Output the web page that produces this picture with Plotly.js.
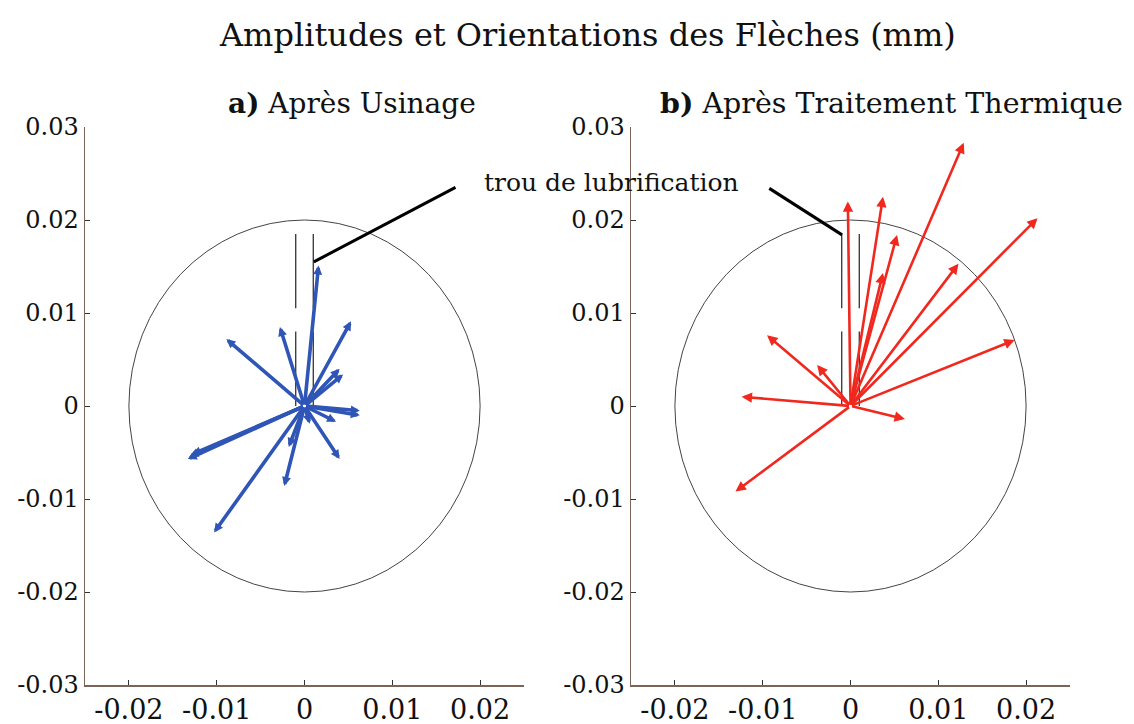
<!DOCTYPE html>
<html>
<head>
<meta charset="utf-8">
<script src="https://cdn.plot.ly/plotly-3.0.1.min.js"></script>
<style>html,body{margin:0;padding:0;background:#fff}#chart{width:1134px;height:724px}</style>
</head>
<body>
<div id="chart"></div>
<script>
// ---- data ----
const blueTipX = [0.0016, 0.0053, 0.0040, 0.0044, -0.0028, -0.0089, 0.0063, 0.0063, 0.0036, 0.0040, 0.0006, -0.0018, -0.0023, -0.0103, -0.0131, -0.0133, -0.0128];
const blueTipY = [0.0151, 0.0091, 0.0040, 0.0034, 0.0085, 0.0072, -0.0005, -0.0010, -0.0017, -0.0057, -0.0019, -0.0044, -0.0086, -0.0136, -0.0054, -0.0057, -0.0052];
const redTipX = [0.0129, 0.0213, -0.0003, 0.0037, 0.0053, 0.0037, 0.0123, 0.0187, -0.0095, -0.0038, -0.0124, 0.0062, -0.0131];
const redTipY = [0.0283, 0.0202, 0.0220, 0.0225, 0.0184, 0.0143, 0.0153, 0.0071, 0.0076, 0.0044, 0.0010, -0.0014, -0.0092];
const arrowOrigin = [0, 0];
const circleRadius = 0.02;
const holeX = [-0.001, 0.001];
const holeSegments = [[0, 0.008], [0.0105, 0.0185]];
const leaderA_X = [0.00106, 0.0172];
const leaderA_Y = [0.0155, 0.0235];
const leaderB_X = [-0.00925, -0.00096];
const leaderB_Y = [0.0234, 0.0184];
const xTickVals = [-0.02, -0.01, 0, 0.01, 0.02];
const xTickText = ['-0.02', '-0.01', '0', '0.01', '0.02'];
const yTickVals = [-0.03, -0.02, -0.01, 0, 0.01, 0.02, 0.03];
const yTickText = ['-0.03', '-0.02', '-0.01', '0', '0.01', '0.02', '0.03'];
const mainTitle = 'Amplitudes et Orientations des Flèches (mm)';
const panelTitles = ['<b>a)</b> Après Usinage', '<b>b)</b> Après Traitement Thermique'];
const holeLabel = 'trou de lubrification';

// ---- styles ----
const SERIF = 'DejaVu Serif, serif';
const BLUE = '#2f56b6';
const RED = '#f0281e';
const AXC = '#7a6558';

const traces = [];
['x', 'x2'].forEach((xa, i) => {
  const ya = i === 0 ? 'y' : 'y2';
  holeX.forEach(hx => {
    holeSegments.forEach(seg => {
      traces.push({x: [hx, hx], y: seg, xaxis: xa, yaxis: ya, mode: 'lines',
        line: {color: '#333', width: 1.3}, hoverinfo: 'skip', showlegend: false});
    });
  });
});
traces.push({x: leaderA_X, y: leaderA_Y, xaxis: 'x', yaxis: 'y', mode: 'lines',
  line: {color: '#000', width: 3}, showlegend: false, hoverinfo: 'skip'});
traces.push({x: leaderB_X, y: leaderB_Y, xaxis: 'x2', yaxis: 'y2', mode: 'lines',
  line: {color: '#000', width: 3}, showlegend: false, hoverinfo: 'skip'});

const annotations = [];
blueTipX.forEach((tx, i) => {
  annotations.push({x: tx, y: blueTipY[i], ax: arrowOrigin[0], ay: arrowOrigin[1],
    xref: 'x', yref: 'y', axref: 'x', ayref: 'y', text: '', showarrow: true,
    arrowhead: 2, arrowsize: 0.5, arrowwidth: 3.6, arrowcolor: BLUE, standoff: 0});
});
redTipX.forEach((tx, i) => {
  annotations.push({x: tx, y: redTipY[i], ax: arrowOrigin[0], ay: arrowOrigin[1],
    xref: 'x2', yref: 'y2', axref: 'x2', ayref: 'y2', text: '', showarrow: true,
    arrowhead: 2, arrowsize: 0.8, arrowwidth: 2.6, arrowcolor: RED, standoff: 0});
});
annotations.push({text: mainTitle, xref: 'paper', yref: 'paper', x: 587/1134, y: 1 - 35/724,
  showarrow: false, xanchor: 'center', yanchor: 'middle', font: {family: SERIF, size: 32, color: '#111'}});
annotations.push({text: panelTitles[0], xref: 'paper', yref: 'paper', x: 352/1134, y: 1 - 103/724,
  showarrow: false, xanchor: 'center', yanchor: 'middle', font: {family: SERIF, size: 28, color: '#111'}});
annotations.push({text: panelTitles[1], xref: 'paper', yref: 'paper', x: 891/1134, y: 1 - 103/724,
  showarrow: false, xanchor: 'center', yanchor: 'middle', font: {family: SERIF, size: 28.5, color: '#111'}});
annotations.push({text: holeLabel, xref: 'paper', yref: 'paper', x: 611/1134, y: 1 - 183/724,
  showarrow: false, xanchor: 'center', yanchor: 'middle', font: {family: SERIF, size: 25, color: '#111'}});

const shapes = [];
[['x', 'y'], ['x2', 'y2']].forEach(([xa, ya]) => {
  shapes.push({type: 'circle', xref: xa, yref: ya, x0: -circleRadius, x1: circleRadius,
    y0: -circleRadius, y1: circleRadius, line: {color: '#444', width: 1}, layer: 'below'});
});

function xaxis(domain, anchor) {
  return {domain, anchor, range: [-0.025, 0.025], showgrid: false, zeroline: false,
    showline: true, linecolor: AXC, linewidth: 1.5, ticks: 'inside', ticklen: 5, tickcolor: '#333',
    tickvals: xTickVals, ticktext: xTickText, tickfont: {family: SERIF, size: 27, color: '#111'},
    fixedrange: true, automargin: false};
}
function yaxis(domain, anchor) {
  return {domain, anchor, range: [-0.03, 0.03], showgrid: false, zeroline: false,
    showline: true, linecolor: AXC, linewidth: 1.5, ticks: 'inside', ticklen: 5, tickcolor: '#333',
    tickvals: yTickVals, ticktext: yTickText, tickfont: {family: SERIF, size: 24, color: '#111'},
    fixedrange: true, automargin: false};
}

const yDom = [1 - 685/724, 1 - 127/724];
const layout = {
  width: 1134, height: 724, margin: {l: 0, r: 0, t: 0, b: 0},
  paper_bgcolor: '#fff', plot_bgcolor: '#fff', showlegend: false,
  xaxis: xaxis([85/1134, 524/1134], 'y'),
  yaxis: yaxis(yDom, 'x'),
  xaxis2: xaxis([631/1134, 1070/1134], 'y2'),
  yaxis2: yaxis(yDom, 'x2'),
  annotations, shapes
};
Plotly.newPlot('chart', traces, layout, {displayModeBar: false, staticPlot: true});
</script>
</body>
</html>
